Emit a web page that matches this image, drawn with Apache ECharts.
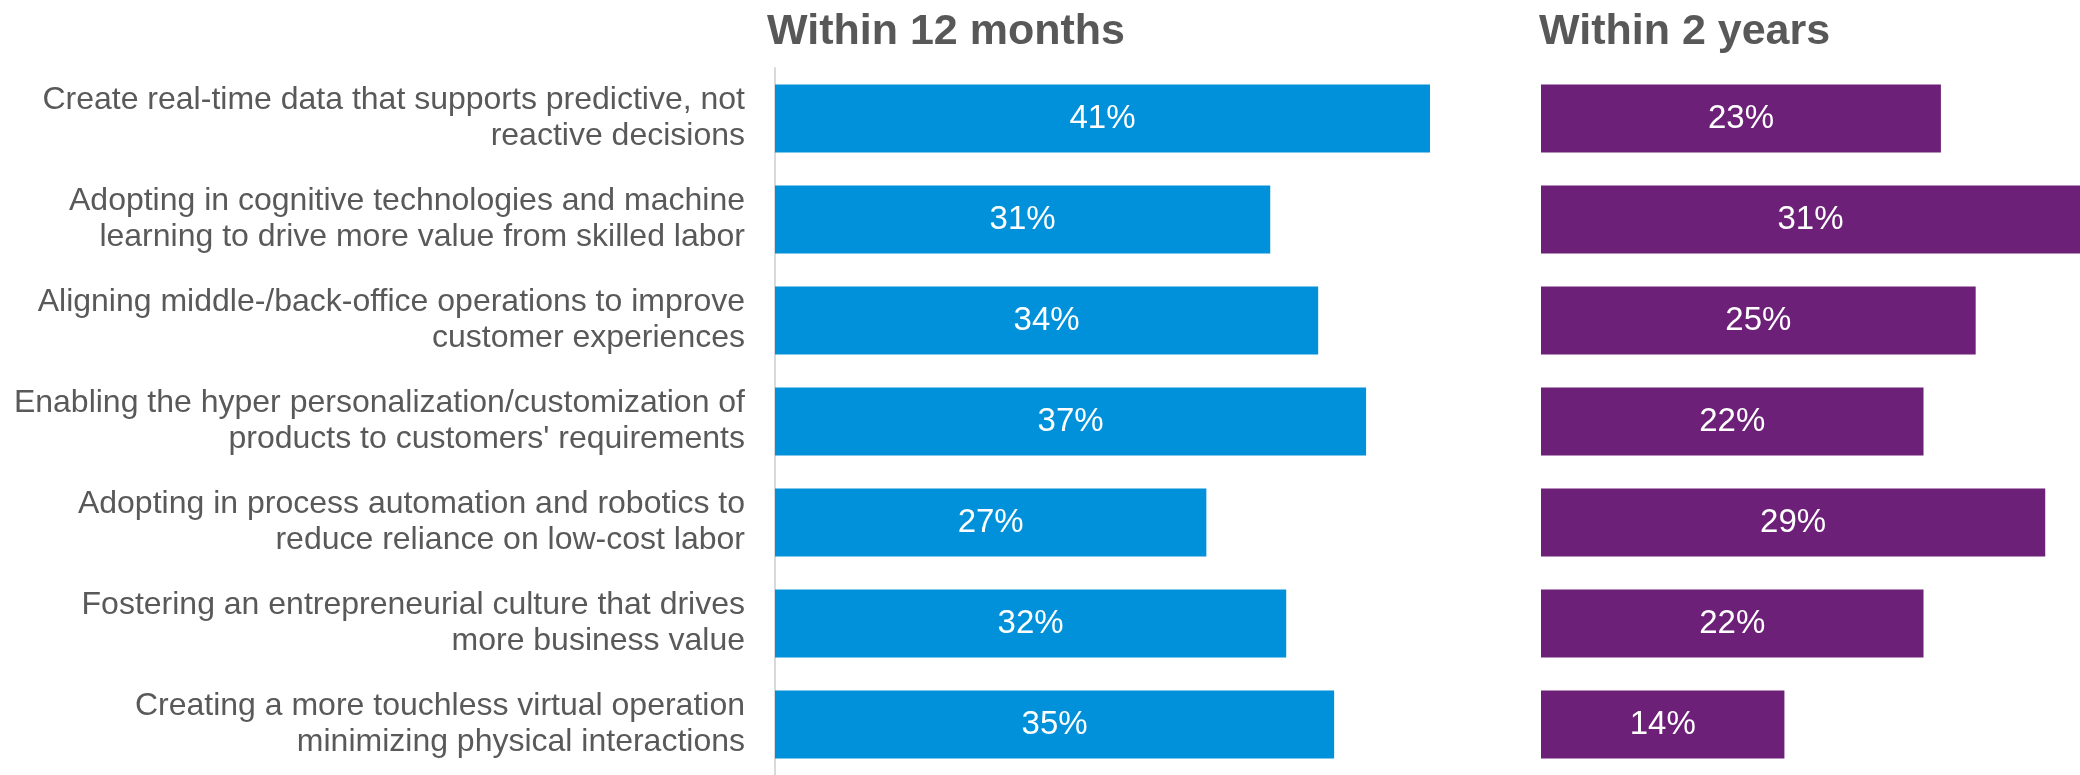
<!DOCTYPE html>
<html>
<head>
<meta charset="utf-8">
<script src="https://cdn.jsdelivr.net/npm/echarts@6/dist/echarts.min.js"></script>
<style>
  html, body { margin: 0; padding: 0; background: #ffffff; }
  #chart { width: 2080px; height: 775px; }
</style>
</head>
<body>
<div id="chart"></div>
<script>
// Priorities and share of respondents by time horizon
const categories = [
  "Create real-time data that supports predictive, not\nreactive decisions",
  "Adopting in cognitive technologies and machine\nlearning to drive more value from skilled labor",
  "Aligning middle-/back-office operations to improve\ncustomer experiences",
  "Enabling the hyper personalization/customization of\nproducts to customers' requirements",
  "Adopting in process automation and robotics to\nreduce reliance on low-cost labor",
  "Fostering an entrepreneurial culture that drives\nmore business value",
  "Creating a more touchless virtual operation\nminimizing physical interactions"
];
const within12Months = [41, 31, 34, 37, 27, 32, 35];
const within2Years = [23, 31, 25, 22, 29, 22, 14];
const panelTitles = ["Within 12 months", "Within 2 years"];

const FONT = 'Arial, "Liberation Sans", Helvetica, sans-serif';
const BLUE = '#0091DA';
const PURPLE = '#6D2077';

const chart = echarts.init(document.getElementById('chart'), null, { renderer: 'canvas' });

const barLabel = {
  show: true,
  position: 'inside',
  color: '#ffffff',
  fontFamily: FONT,
  fontSize: 33,
  formatter: p => p.value + '%'
};

const titleStyle = { fontFamily: FONT, fontSize: 43, fontWeight: 'bold', color: '#585858' };

const option = {
  backgroundColor: '#ffffff',
  animation: false,
  title: [
    { text: panelTitles[0], left: 762, top: 6, textStyle: titleStyle },
    { text: panelTitles[1], left: 1534, top: 6, textStyle: titleStyle }
  ],
  grid: [
    { left: 775, top: 68, width: 655, height: 717, containLabel: false },
    { left: 1541, top: 68, width: 539, height: 717, containLabel: false }
  ],
  xAxis: [
    { type: 'value', gridIndex: 0, min: 0, max: 41, show: false },
    { type: 'value', gridIndex: 1, min: 0, max: 31, show: false }
  ],
  yAxis: [
    {
      type: 'category', gridIndex: 0, data: categories, inverse: true,
      axisLine: { show: true, lineStyle: { color: '#d9d9d9', width: 2 } },
      axisTick: { show: false },
      splitLine: { show: false },
      axisLabel: {
        margin: 30,
        align: 'right',
        fontFamily: FONT,
        fontSize: 32,
        lineHeight: 36,
        color: '#595959'
      }
    },
    {
      type: 'category', gridIndex: 1, data: categories, inverse: true,
      axisLine: { show: false }, axisTick: { show: false },
      axisLabel: { show: false }, splitLine: { show: false }
    }
  ],
  series: [
    {
      name: panelTitles[0], type: 'bar', xAxisIndex: 0, yAxisIndex: 0,
      data: within12Months, barWidth: 68,
      itemStyle: { color: BLUE },
      label: barLabel
    },
    {
      name: panelTitles[1], type: 'bar', xAxisIndex: 1, yAxisIndex: 1,
      data: within2Years, barWidth: 68,
      itemStyle: { color: PURPLE },
      label: barLabel
    }
  ]
};

chart.setOption(option);
</script>
</body>
</html>
